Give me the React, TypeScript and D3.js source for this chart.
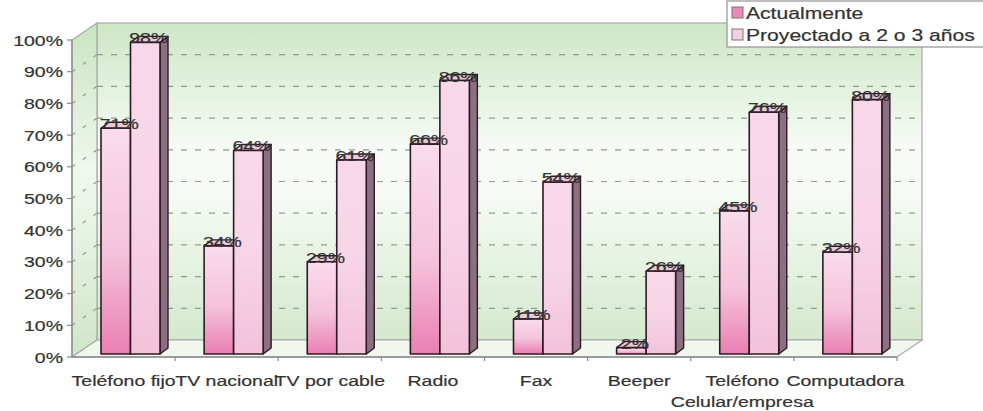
import React from "react";
import * as d3 from "d3";

const categories = ["Teléfono fijo", "TV nacional", "TV por cable", "Radio", "Fax", "Beeper", "Teléfono Celular/empresa", "Computadora"];
const categoryLines = [["Teléfono fijo"], ["TV nacional"], ["TV por cable"], ["Radio"], ["Fax"], ["Beeper"], ["Teléfono", "Celular/empresa"], ["Computadora"]];
const actual = [71, 34, 29, 66, 11, 2, 45, 32];
const projected = [98, 64, 61, 86, 54, 26, 76, 80];
const seriesNames = ["Actualmente", "Proyectado a 2 o 3 años"];
const yTicks = [0, 10, 20, 30, 40, 50, 60, 70, 80, 90, 100];

const W = 983, H = 411;
const FONT = "'Liberation Sans', Arial, sans-serif";

function SText({ x, y, anchor = "middle", children, size = 15, sx = 1.3, fill = "#333" }: any) {
  return (
    <text
      transform={`translate(${x},${y}) scale(${sx},1)`}
      textAnchor={anchor}
      fontFamily={FONT}
      fontSize={size}
      fill={fill}
      stroke={fill}
      strokeWidth={0.2}
    >
      {children}
    </text>
  );
}

export default function App() {
  const x0 = 72, x1 = 897;
  const ddx = 25, ddy = -17;
  const xBand = d3.scaleBand<string>().domain(categories).range([x0, x1]).paddingInner(0).paddingOuter(0);
  const yFront = d3.scaleLinear().domain([0, 100]).range([357, 40]);
  const yBack = d3.scaleLinear().domain([0, 100]).range([357 + ddy, 40 + ddy]);
  const yBar = d3.scaleLinear().domain([0, 100]).range([354, 36]);
  const barOff = 29, barW = 29.5, bdx = 8, bdy = -6;
  const outline = "#2e1a26";

  const bw = xBand.bandwidth();

  const bar = (bx: number, v: number, fillId: string, key: string) => {
    const yt = yBar(v), yb = yBar(0);
    const front = `M${bx},${yt}L${bx + barW},${yt}L${bx + barW},${yb}L${bx},${yb}Z`;
    const top = `M${bx},${yt}L${bx + bdx},${yt + bdy}L${bx + barW + bdx},${yt + bdy}L${bx + barW},${yt}Z`;
    const side = `M${bx + barW},${yt}L${bx + barW + bdx},${yt + bdy}L${bx + barW + bdx},${yb + bdy}L${bx + barW},${yb}Z`;
    return (
      <g key={key}>
        <path d={side} fill="#8a7080" stroke={outline} strokeWidth={1.4} strokeLinejoin="round" />
        <path d={top} fill="#e9c8d8" stroke={outline} strokeWidth={1.4} strokeLinejoin="round" />
        <path d={front} fill={`url(#${fillId})`} stroke={outline} strokeWidth={1.6} strokeLinejoin="round" />
      </g>
    );
  };

  return (
    <svg width={W} height={H} style={{ display: "block", position: "absolute", left: 0, top: 0, background: "#fff" }}>
      <defs>
        <linearGradient id="wallG" x1="0" y1="0" x2="0" y2="1">
          <stop offset="0" stopColor="#cde7c5" />
          <stop offset="0.4" stopColor="#f7fbf6" />
          <stop offset="0.55" stopColor="#f5faf4" />
          <stop offset="1" stopColor="#d4e9cd" />
        </linearGradient>
        <linearGradient id="sideG" x1="0" y1="0" x2="0" y2="1">
          <stop offset="0" stopColor="#c9e4c0" />
          <stop offset="0.45" stopColor="#f1f8ef" />
          <stop offset="1" stopColor="#cfe6c7" />
        </linearGradient>
        <linearGradient id="s1G" x1="0" y1="1" x2="0" y2="0">
          <stop offset="0" stopColor="#ea7fb2" />
          <stop offset="0.45" stopColor="#f4c3db" />
          <stop offset="1" stopColor="#f9dceb" />
        </linearGradient>
        <linearGradient id="s2G" x1="0" y1="1" x2="0" y2="0">
          <stop offset="0" stopColor="#f2c2da" />
          <stop offset="0.5" stopColor="#f7d5e6" />
          <stop offset="1" stopColor="#f8d8e8" />
        </linearGradient>
      </defs>

      {/* back wall */}
      <rect x={x0 + ddx} y={yBack(100)} width={x1 - x0} height={yBack(0) - yBack(100)} fill="url(#wallG)" stroke="#a8a8a8" strokeWidth={1.2} />
      {/* left side wall */}
      <path d={`M${x0},${yFront(0)}L${x0 + ddx},${yBack(0)}L${x0 + ddx},${yBack(100)}L${x0},${yFront(100)}Z`} fill="url(#sideG)" stroke="#a8a8a8" strokeWidth={1.2} />
      {/* floor */}
      <path d={`M${x0},${yFront(0)}L${x0 + ddx},${yBack(0)}L${x1 + ddx},${yBack(0)}L${x1},${yFront(0)}Z`} fill="#f1f6ef" stroke="#a8a8a8" strokeWidth={1.2} />

      {/* gridlines */}
      {yTicks.filter(t => t > 0 && t < 100).map(t => (
        <g key={`g${t}`}>
          <line x1={x0 + ddx} x2={x1 + ddx} y1={yBack(t)} y2={yBack(t)} stroke="#8e9c8e" strokeWidth={1.2} strokeDasharray="6,8" />
          <line x1={x0} x2={x0 + ddx} y1={yFront(t)} y2={yBack(t)} stroke="#8e9c8e" strokeWidth={1.2} strokeDasharray="4,9" />
        </g>
      ))}

      {/* axes */}
      <line x1={x0} x2={x0} y1={yFront(100)} y2={yFront(0)} stroke="#8a8a8a" strokeWidth={1.3} />
      <line x1={x0} x2={x1} y1={yFront(0)} y2={yFront(0)} stroke="#8a8a8a" strokeWidth={1.3} />
      {yTicks.map(t => (
        <line key={`yt${t}`} x1={x0 - 5} x2={x0} y1={yFront(t)} y2={yFront(t)} stroke="#8a8a8a" strokeWidth={1.2} />
      ))}
      {categories.map((c, i) => (
        <line key={`xt${i}`} x1={(xBand(c) as number) + bw} x2={(xBand(c) as number) + bw} y1={yFront(0)} y2={yFront(0) + 4} stroke="#8a8a8a" strokeWidth={1.2} />
      ))}

      {/* bars */}
      {categories.map((c, i) => {
        const bx = (xBand(c) as number) + barOff;
        return (
          <g key={`b${i}`}>
            {bar(bx, actual[i], "s1G", "a")}
            {bar(bx + barW, projected[i], "s2G", "p")}
          </g>
        );
      })}

      {/* data labels */}
      {categories.map((c, i) => {
        const bx = (xBand(c) as number) + barOff;
        return (
          <g key={`l${i}`}>
            <SText x={bx + barW / 2 + 3.5} y={yBar(actual[i]) + 1}>{`${actual[i]}%`}</SText>
            <SText x={bx + barW * 1.5 + 3.5} y={yBar(projected[i]) + 1}>{`${projected[i]}%`}</SText>
          </g>
        );
      })}

      {/* y labels */}
      {yTicks.map(t => (
        <SText key={`yl${t}`} x={63} y={yFront(t) + 5.5} anchor="end">{`${t}%`}</SText>
      ))}

      {/* x labels */}
      {categories.map((c, i) => (
        <g key={`xl${i}`}>
          {categoryLines[i].map((ln, j) => (
            <SText key={j} x={(xBand(c) as number) + bw / 2} y={386 + j * 21}>{ln}</SText>
          ))}
        </g>
      ))}

      {/* legend */}
      <rect x={727} y={1} width={270} height={46} fill="#fff" stroke="#9a9a9a" strokeWidth={1.3} />
      <rect x={732} y={7} width={11} height={11} fill="#e98bb8" stroke="#777" strokeWidth={1} />
      <rect x={732} y={29} width={11} height={11} fill="#f5cfe1" stroke="#777" strokeWidth={1} />
      <SText x={746} y={19} anchor="start" size={16} sx={1.32}>{seriesNames[0]}</SText>
      <SText x={746} y={41} anchor="start" size={16} sx={1.32}>{seriesNames[1]}</SText>
    </svg>
  );
}
